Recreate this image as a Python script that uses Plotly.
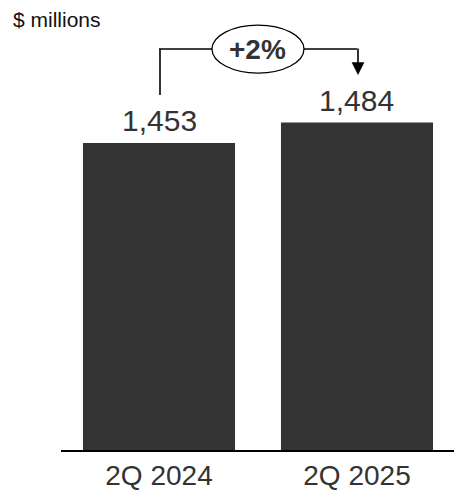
import plotly.graph_objects as go

categories = ["2Q 2024", "2Q 2025"]
values = [1453, 1484]
change_label = "+2%"
unit_label = "$ millions"

FONT = "Arial, Liberation Sans, sans-serif"
BAR = "#333333"
TXT = "#333333"

y_range = [988.6, 1669.4]
x_range = [-0.495, 1.49]

fig = go.Figure()
fig.add_trace(go.Bar(
    x=[0, 1], y=values, width=0.768,
    marker=dict(color=BAR, line=dict(width=0)),
    hoverinfo="skip",
))

for i, v in enumerate(values):
    fig.add_annotation(x=i, y=v, text=f"{v:,}", showarrow=False,
                       yanchor="bottom", yshift=4,
                       font=dict(family=FONT, size=30, color=TXT))

LW = 1.6
fig.add_shape(type="line", xref="x", yref="y",
              xsizemode="pixel", xanchor=0, x0=1, x1=1,
              ysizemode="pixel", yanchor=values[0], y0=48, y1=94,
              line=dict(color="black", width=LW))
fig.add_shape(type="line", xref="x", yref="y",
              x0=0, x1=1, xsizemode="scaled",
              ysizemode="pixel", yanchor=values[0], y0=94, y1=94,
              line=dict(color="black", width=LW))
fig.add_shape(type="line", xref="x", yref="y",
              xsizemode="pixel", xanchor=1, x0=1, x1=1,
              ysizemode="pixel", yanchor=values[1], y0=58, y1=74,
              line=dict(color="black", width=LW))
fig.add_shape(type="path", xref="x", yref="y",
              xsizemode="pixel", xanchor=1,
              ysizemode="pixel", yanchor=values[1],
              path="M -5,60 L 7,60 L 1,48 Z",
              fillcolor="black", line=dict(color="black", width=0.5))
fig.add_shape(type="circle", xref="x", yref="y",
              xsizemode="pixel", xanchor=0.5, x0=-46, x1=46,
              ysizemode="pixel", yanchor=values[0], y0=70, y1=118,
              fillcolor="white", line=dict(color="black", width=1.3))
fig.add_annotation(x=0.5, y=values[0], yshift=94, text=f"<b>{change_label}</b>",
                   showarrow=False, yanchor="middle",
                   font=dict(family=FONT, size=28, color=TXT))

fig.add_annotation(xref="paper", yref="paper", x=(11 - 61) / 393, y=1,
                   xanchor="left", yanchor="top", yshift=-6,
                   text=unit_label, showarrow=False,
                   font=dict(family=FONT, size=21, color="#111111"))

fig.update_layout(
    width=454, height=492,
    margin=dict(l=61, r=0, t=0, b=42, autoexpand=False),
    paper_bgcolor="white", plot_bgcolor="white",
    showlegend=False,
    xaxis=dict(range=x_range, tickmode="array", tickvals=[0, 1], ticktext=categories,
               showgrid=False, zeroline=False, showline=True, linecolor="black",
               linewidth=1.5, ticks="", ticklabelstandoff=0, automargin=False,
               tickfont=dict(family=FONT, size=28, color=TXT)),
    yaxis=dict(range=y_range, visible=False, showgrid=False, zeroline=False,
               automargin=False),
)

fig.write_html("out.html")
